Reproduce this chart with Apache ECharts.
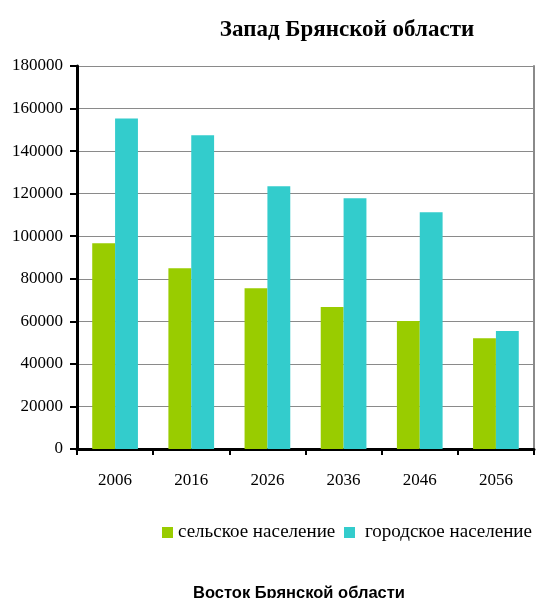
<!DOCTYPE html>
<html>
<head>
<meta charset="utf-8">
<script src="https://cdn.jsdelivr.net/npm/echarts@6/dist/echarts.min.js"></script>
<style>html,body{margin:0;padding:0;background:#fff;}#c{width:536px;height:598px;}</style>
</head>
<body>
<div id="c"></div>
<script>
const years = ['2006', '2016', '2026', '2036', '2046', '2056'];
const rural = [96700, 85000, 75600, 66700, 60100, 52100];
const urban = [155300, 147400, 123500, 117800, 111300, 55400];
const seriesNames = ['сельское население', 'городское население'];
const titleText = 'Запад Брянской области';
const footerText = 'Восток Брянской области';

const serif = 'Liberation Serif, Times New Roman, serif';
const legendBase = { top: 523, padding: 0, itemWidth: 11, itemHeight: 11, icon: 'rect',
  textStyle: { fontFamily: serif, fontSize: 19, color: '#000' } };
const chart = echarts.init(document.getElementById('c'));
chart.setOption({
  animation: false,
  backgroundColor: '#fff',
  title: [
    { text: titleText, left: 342, top: 14, textAlign: 'center',
      textStyle: { fontFamily: serif, fontSize: 23, fontWeight: 'bold', color: '#000' } },
    { text: footerText, left: 294, top: 580, textAlign: 'center',
      textStyle: { fontFamily: 'Liberation Sans, Arial, sans-serif', fontSize: 16.5, fontWeight: 'bold', color: '#000' } }
  ],
  legend: [
    Object.assign({}, legendBase, { left: 162,
      data: [{ name: seriesNames[0] }] }),
    Object.assign({}, legendBase, { left: 344,
      data: [{ name: seriesNames[1], textStyle: { padding: [0, 0, 0, 5] } }] })
  ],
  grid: { left: 77, right: 2, top: 66, bottom: 149, containLabel: false },
  xAxis: [
    { type: 'category', data: years, position: 'bottom',
      axisLine: { lineStyle: { color: '#000', width: 3 } },
      axisTick: { show: true, length: 6, lineStyle: { color: '#000', width: 2 } },
      axisLabel: { fontFamily: serif, fontSize: 17, color: '#000', margin: 23 } },
    { type: 'category', data: years, position: 'top',
      axisLine: { lineStyle: { color: '#000', width: 1 } },
      axisTick: { show: false }, axisLabel: { show: false } }
  ],
  yAxis: [
    { type: 'value', min: 0, max: 180000, interval: 20000, position: 'left',
      axisLine: { show: true, lineStyle: { color: '#000', width: 3 } },
      axisTick: { show: true, length: 7, lineStyle: { color: '#000', width: 2 } },
      axisLabel: { fontFamily: serif, fontSize: 17, color: '#000', margin: 14,
        formatter: function (v) { return String(v); } },
      splitLine: { show: true, lineStyle: { color: '#8a8a8a', width: 1 } } },
    { type: 'value', min: 0, max: 180000, interval: 20000, position: 'right',
      axisLine: { show: true, lineStyle: { color: '#8a8a8a', width: 2 } },
      axisTick: { show: false }, axisLabel: { show: false }, splitLine: { show: false } }
  ],
  series: [
    { name: seriesNames[0], type: 'bar', data: rural, barGap: '0%', barCategoryGap: '40%',
      itemStyle: { color: '#99CC00' } },
    { name: seriesNames[1], type: 'bar', data: urban, barGap: '0%', barCategoryGap: '40%',
      itemStyle: { color: '#33CCCC' } }
  ]
});
</script>
</body>
</html>
